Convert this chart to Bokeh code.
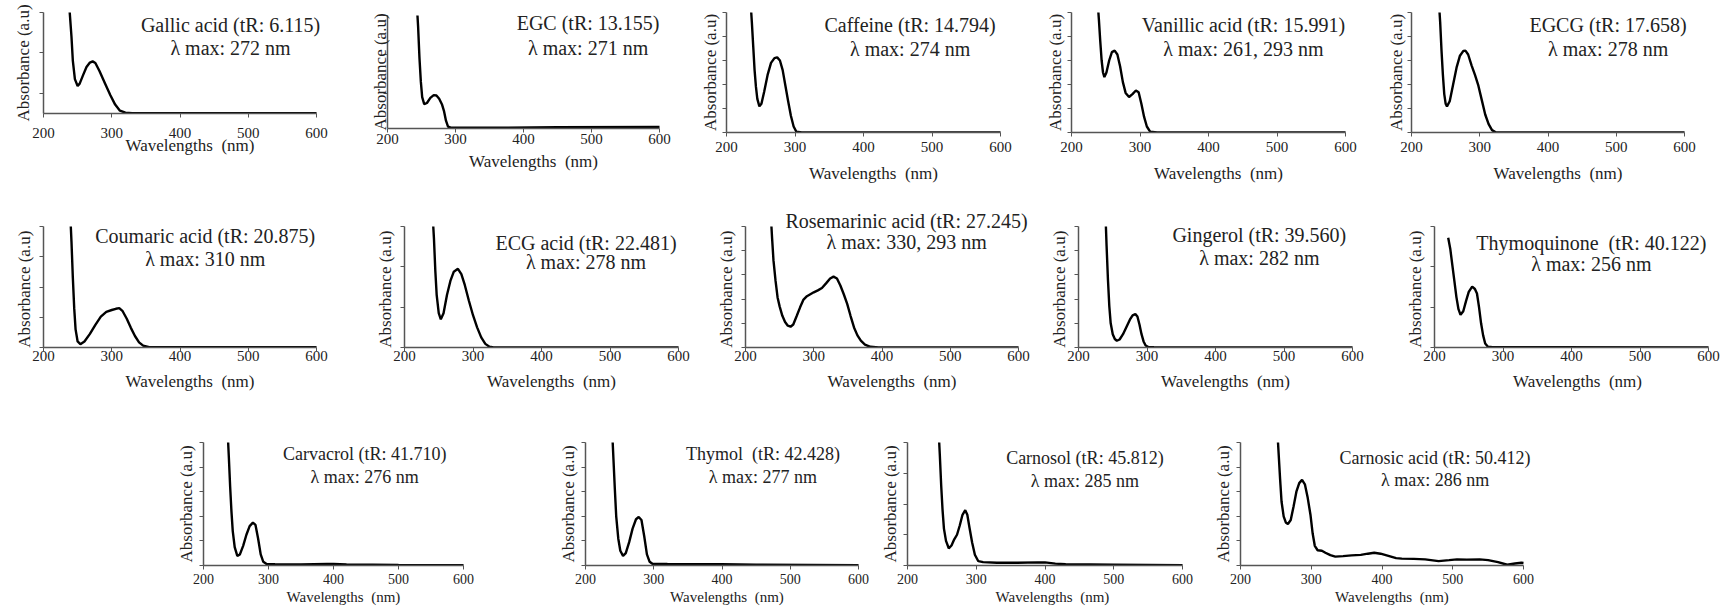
from bokeh.plotting import figure
from bokeh.layouts import column, row
from bokeh.models import Range1d, Label, FixedTicker, Spacer
from bokeh.embed import file_html
from bokeh.resources import INLINE

SERIF = "Liberation Serif"

wavelength_ticks = [200, 300, 400, 500, 600]

# ---------------- data (absorbance in arbitrary units) -------------
gallic_nm = [235, 238, 241, 243, 246, 250, 253, 258, 263, 268, 272, 276, 282, 290, 298, 305, 312, 320, 330, 400, 500, 600]
gallic_abs = [3.4, 2.6, 1.9, 1.3, 0.85, 0.68, 0.74, 0.95, 1.15, 1.26, 1.29, 1.25, 1.05, 0.75, 0.45, 0.22, 0.07, 0.02, 0.01, 0.01, 0.01, 0.01]

egc_nm = [243, 245, 247, 249, 251, 254, 258, 263, 268, 272, 276, 280, 283, 286, 289, 293, 350, 450, 600]
egc_abs = [3.2, 2.6, 1.8, 1.2, 0.8, 0.62, 0.65, 0.78, 0.85, 0.84, 0.76, 0.62, 0.45, 0.2, 0.05, 0.02, 0.02, 0.03, 0.04]

caffeine_nm = [235, 237, 239, 241, 243, 245, 248, 251, 255, 260, 265, 270, 274, 278, 282, 286, 290, 294, 298, 302, 310, 600]
caffeine_abs = [5.5, 4.6, 3.6, 2.6, 1.9, 1.4, 1.09, 1.2, 1.7, 2.4, 2.9, 3.1, 3.13, 3.0, 2.6, 1.95, 1.3, 0.7, 0.25, 0.03, 0.0, 0.0]

vanillic_nm = [238, 240, 242, 244, 246, 248, 251, 255, 259, 263, 267, 271, 275, 279, 284, 289, 294, 298, 302, 306, 310, 315, 325, 600]
vanillic_abs = [5.5, 4.7, 3.8, 3.0, 2.5, 2.31, 2.5, 3.0, 3.35, 3.41, 3.25, 2.75, 2.1, 1.65, 1.48, 1.6, 1.75, 1.68, 1.2, 0.65, 0.25, 0.03, 0.0, 0.0]

egcg_nm = [240, 242, 244, 246, 248, 250, 252, 256, 261, 266, 271, 276, 279, 283, 288, 293, 298, 303, 308, 313, 318, 324, 600]
egcg_abs = [5.5, 4.6, 3.4, 2.4, 1.6, 1.2, 1.09, 1.3, 2.0, 2.7, 3.2, 3.4, 3.41, 3.25, 2.8, 2.4, 1.95, 1.35, 0.75, 0.35, 0.1, 0.0, 0.0]

coumaric_nm = [240, 241, 243, 245, 247, 250, 254, 260, 268, 276, 284, 292, 300, 306, 311, 316, 322, 328, 334, 340, 346, 355, 600]
coumaric_abs = [4.0, 3.5, 2.3, 1.3, 0.6, 0.2, 0.11, 0.2, 0.45, 0.75, 1.02, 1.18, 1.24, 1.28, 1.3, 1.2, 0.95, 0.65, 0.38, 0.17, 0.06, 0.01, 0.01]

ecg_nm = [242, 243, 245, 247, 250, 253, 257, 262, 267, 272, 278, 283, 288, 294, 300, 306, 312, 318, 324, 330, 600]
ecg_abs = [3.0, 2.7, 1.9, 1.3, 0.85, 0.7, 0.85, 1.3, 1.65, 1.88, 1.95, 1.82, 1.55, 1.16, 0.8, 0.5, 0.25, 0.09, 0.02, 0.0, 0.0]

rosmarinic_nm = [238, 239, 241, 244, 247, 250, 254, 258, 262, 266, 270, 275, 280, 285, 290, 295, 300, 306, 312, 318, 324, 329, 334, 339, 344, 349, 354, 359, 364, 369, 375, 383, 395, 600]
rosmarinic_abs = [5.0, 4.5, 3.6, 2.76, 2.07, 1.7, 1.31, 1.05, 0.9, 0.86, 0.95, 1.3, 1.66, 1.98, 2.12, 2.2, 2.28, 2.36, 2.46, 2.65, 2.85, 2.93, 2.85, 2.56, 2.2, 1.8, 1.3, 0.83, 0.5, 0.28, 0.12, 0.03, 0.0, 0.0]

gingerol_nm = [240, 241, 243, 245, 247, 250, 253, 256, 260, 265, 270, 275, 279, 283, 286, 289, 292, 295, 298, 302, 310, 600]
gingerol_abs = [5.0, 4.2, 2.8, 1.7, 1.0, 0.55, 0.35, 0.28, 0.33, 0.55, 0.85, 1.15, 1.33, 1.38, 1.28, 0.95, 0.55, 0.25, 0.08, 0.02, 0.01, 0.0]

thymoquinone_nm = [220, 223, 226, 229, 232, 235, 238, 242, 246, 250, 255, 259, 262, 265, 268, 271, 274, 278, 285, 375, 600]
thymoquinone_abs = [2.72, 2.45, 2.05, 1.65, 1.25, 0.95, 0.81, 0.9, 1.15, 1.38, 1.51, 1.45, 1.34, 1.0, 0.6, 0.3, 0.1, 0.02, 0.01, 0.01, 0.0]

carvacrol_nm = [237, 239, 241, 243, 245, 248, 252, 256, 261, 266, 271, 276, 280, 284, 288, 292, 297, 310, 350, 390, 400, 420, 500, 600]
carvacrol_abs = [5.5, 4.4, 3.2, 2.2, 1.4, 0.75, 0.39, 0.45, 0.8, 1.25, 1.6, 1.74, 1.65, 1.1, 0.45, 0.15, 0.06, 0.05, 0.04, 0.06, 0.06, 0.04, 0.02, 0.01]

thymol_nm = [239, 241, 243, 245, 248, 251, 255, 259, 264, 269, 274, 278, 282, 286, 290, 294, 298, 320, 380, 400, 450, 600]
thymol_abs = [5.5, 4.3, 3.1, 2.0, 1.1, 0.6, 0.39, 0.5, 0.95, 1.5, 1.88, 1.97, 1.85, 1.2, 0.45, 0.15, 0.07, 0.06, 0.05, 0.05, 0.03, 0.01]

carnosol_nm = [245, 247, 249, 251, 253, 256, 260, 264, 268, 272, 276, 280, 284, 287, 290, 294, 298, 303, 310, 330, 360, 390, 400, 415, 430, 500, 600]
carnosol_abs = [4.5, 3.6, 2.6, 1.8, 1.2, 0.8, 0.56, 0.65, 0.85, 1.0, 1.3, 1.65, 1.8, 1.65, 1.25, 0.75, 0.35, 0.14, 0.11, 0.09, 0.09, 0.1, 0.1, 0.06, 0.04, 0.03, 0.01]

carnosic_nm = [252, 254, 256, 258, 261, 264, 267, 271, 275, 279, 283, 287, 291, 295, 299, 302, 305, 309, 315, 320, 327, 334, 345, 357, 370, 380, 389, 398, 409, 420, 428, 445, 461, 480, 495, 506, 520, 538, 550, 564, 577, 588, 597, 600]
carnosic_abs = [5.5, 4.5, 3.5, 2.6, 2.0, 1.75, 1.69, 1.85, 2.4, 3.0, 3.35, 3.48, 3.3, 2.75, 2.04, 1.3, 0.8, 0.62, 0.6, 0.52, 0.42, 0.36, 0.38, 0.41, 0.43, 0.48, 0.52, 0.48, 0.39, 0.3, 0.28, 0.27, 0.25, 0.18, 0.22, 0.25, 0.24, 0.25, 0.22, 0.14, 0.03, 0.08, 0.11, 0.1]

compound_names = ["Gallic acid", "EGC", "Caffeine", "Vanillic acid", "EGCG",
                  "Coumaric acid", "ECG acid", "Rosemarinic acid", "Gingerol", "Thymoquinone\u00a0",
                  "Carvacrol", "Thymol\u00a0", "Carnosol", "Carnosic acid"]
retention_times = ["6.115", "13.155", "14.794", "15.991", "17.658",
                   "20.875", "22.481", "27.245", "39.560", "40.122",
                   "41.710", "42.428", "45.812", "50.412"]
lambda_max = ["272", "271", "274", "261, 293", "278",
              "310", "278", "330, 293", "282", "256",
              "276", "277", "285", "286"]
spectra = [(gallic_nm, gallic_abs), (egc_nm, egc_abs), (caffeine_nm, caffeine_abs),
           (vanillic_nm, vanillic_abs), (egcg_nm, egcg_abs),
           (coumaric_nm, coumaric_abs), (ecg_nm, ecg_abs), (rosmarinic_nm, rosmarinic_abs),
           (gingerol_nm, gingerol_abs), (thymoquinone_nm, thymoquinone_abs),
           (carvacrol_nm, carvacrol_abs), (thymol_nm, thymol_abs),
           (carnosol_nm, carnosol_abs), (carnosic_nm, carnosic_abs)]

# ---------------- layout / style (pixels) -------------
# rows: row height, title font, tick font, x-label font, y-label font
rows_style = [
    (195, "20px", "15px", "17px", "17px"),
    (205, "20px", "15px", "17px", "17px"),
    (211, "18px", "14px", "15px", "17px"),
]
# panel: row, fig width, border left, axis width px, pad right px,
#        border top, frame height, border bottom, frame extension on top (px),
#        y axis top, y ticks, title (x, y1, y2), ylabel standoff, ylabel shift (nbsp count),
#        xtick standoff, xlabel standoff
panels = [
    (0, 350, 43, 273, 20, 12, 101, 63, 0, 2.5, [0.5, 1.5, 2.5], (474, 2.18, 1.63), 7, 0, 10, -5),
    (0, 340, 37, 272, 20, 15, 113, 63, 0, 2.88, [0.88, 1.88, 2.88], (495, 2.68, 2.06), -6, 0, 1, 5),
    (0, 340, 36, 274, 20, 12, 120, 63, 0, 5, [0, 1, 2, 3, 4, 5], (468, 4.46, 3.5), 3, 0, 5, 9),
    (0, 340, 41, 274, 20, 12, 120, 63, 0, 5, [0, 1, 2, 3, 4, 5], (451, 4.46, 3.5), 3, 0, 5, 9),
    (0, 354, 41, 273, 20, 12, 120, 63, 0, 5, [0, 1, 2, 3, 4, 5], (488, 4.46, 3.5), 2, 0, 5, 9),
    (1, 360, 43, 273, 20, 10, 142, 53, 21, 4, [0, 1, 2, 3, 4], (437, 3.70, 2.94), 6, 6, -1, 8),
    (1, 345, 44, 274, 20, 10, 142, 53, 21, 3, [0, 1, 2, 3], (465, 2.58, 2.11), 6, 6, -1, 8),
    (1, 335, 40, 273, 20, 10, 142, 53, 21, 5, [0, 1, 2, 3, 4, 5], (436, 5.21, 4.34), 6, 6, -1, 8),
    (1, 355, 38, 274, 20, 10, 142, 53, 21, 5, [0, 1, 2, 3, 4, 5], (464, 4.63, 3.68), 6, 6, -1, 8),
    (1, 329, 39, 274, 12, 10, 142, 53, 21, 3, [0, 1, 2, 3], (429, 2.58, 2.08), 6, 6, -1, 8),
    (2, 385, 43, 260, 20, 42, 123, 46, 0, 5, [0, 1, 2, 3, 4, 5], (448, 4.55, 3.58), 4, 0, 4, 2),
    (2, 325, 40, 273, 10, 42, 123, 46, 0, 5, [0, 1, 2, 3, 4, 5], (460, 4.55, 3.58), 4, 0, 4, 2),
    (2, 330, 37, 275, 15, 42, 123, 46, 0, 4, [0, 1, 2, 3, 4], (458, 3.51, 2.76), 4, 0, 4, 2),
    (2, 524, 40, 283, 20, 42, 123, 46, 0, 5, [0, 1, 2, 3, 4, 5], (475, 4.39, 3.46), 4, 0, 4, 2),
]

AXIS_COLOR = "#555555"
TEXT_COLOR = "#222222"


def make_panel(i):
    nm, ab = spectra[i]
    (r, fw, bl, axis_px, pad_px, bt, frame_h, bb, ext_px, ytop, yticks, tpos,
     ylab_so, ylab_shift, xtick_so, xlab_so) = panels[i]
    row_h, title_fs, tick_fs, xlab_fs, ylab_fs = rows_style[r]
    fh = bt + frame_h + bb
    br = fw - bl - axis_px - pad_px
    x_end = 600 + pad_px * 400.0 / axis_px
    vis_h = frame_h - ext_px
    y_end = ytop + ytop * ext_px / vis_h

    p = figure(width=fw, height=fh, x_range=Range1d(200, x_end), y_range=Range1d(0, y_end),
               output_backend="svg", toolbar_location=None,
               min_border_left=bl, min_border_right=br, min_border_top=bt, min_border_bottom=bb)
    p.outline_line_color = None
    p.grid.visible = False
    p.background_fill_color = "white"
    p.border_fill_color = "white"

    p.line(nm, ab, line_color="black", line_width=2.4)

    xa = p.xaxis[0]
    xa.ticker = FixedTicker(ticks=wavelength_ticks)
    xa.bounds = (200, 600)
    xa.axis_line_color = AXIS_COLOR
    xa.axis_line_width = 1.5
    xa.major_tick_line_color = AXIS_COLOR
    xa.major_tick_in = 0
    xa.major_tick_out = 4
    xa.minor_tick_line_color = None
    xa.major_label_text_font = SERIF
    xa.major_label_text_font_size = tick_fs
    xa.major_label_text_color = TEXT_COLOR
    xa.major_label_standoff = xtick_so
    xa.axis_label = "Wavelengths\u00a0 (nm)"
    xa.axis_label_text_font = SERIF
    xa.axis_label_text_font_size = xlab_fs
    xa.axis_label_text_font_style = "normal"
    xa.axis_label_text_color = TEXT_COLOR
    xa.axis_label_standoff = xlab_so

    ya = p.yaxis[0]
    ya.ticker = FixedTicker(ticks=yticks)
    ya.bounds = (0, ytop)
    ya.axis_line_color = AXIS_COLOR
    ya.axis_line_width = 1.5
    ya.major_tick_line_color = AXIS_COLOR
    ya.major_tick_in = 0
    ya.major_tick_out = 4
    ya.minor_tick_line_color = None
    ya.major_label_overrides = {t: "" for t in yticks}
    ya.major_label_text_color = None
    ya.major_label_standoff = 0
    ya.axis_label = "Absorbance (a.u)" + "\u00a0" * ylab_shift
    ya.axis_label_text_font = SERIF
    ya.axis_label_text_font_size = ylab_fs
    ya.axis_label_text_font_style = "normal"
    ya.axis_label_text_color = TEXT_COLOR
    ya.axis_label_standoff = ylab_so

    tx, ty1, ty2 = tpos
    line1 = f"{compound_names[i]} (tR: {retention_times[i]})"
    line2 = f"\u03bb max: {lambda_max[i]} nm"
    for txt, ty in ((line1, ty1), (line2, ty2)):
        p.add_layout(Label(x=tx, y=ty, text=txt, text_font=SERIF, text_font_size=title_fs,
                           text_align="center", text_baseline="middle", text_color=TEXT_COLOR))

    if fh < row_h:
        return column(p, Spacer(width=fw, height=row_h - fh))
    return p


cells = [make_panel(i) for i in range(14)]

layout = column(
    row(*cells[0:5]),
    row(*cells[5:10]),
    row(Spacer(width=160, height=211), *cells[10:14]),
)

open("out.html", "w").write(file_html(layout, INLINE))
